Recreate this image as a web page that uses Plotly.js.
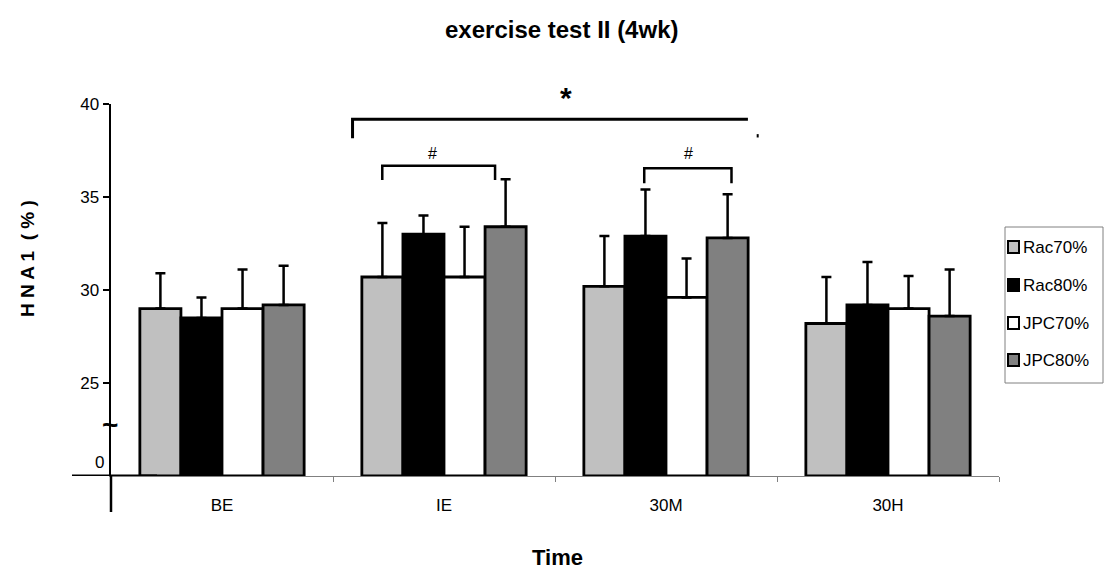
<!DOCTYPE html>
<html>
<head>
<meta charset="utf-8">
<script src="https://cdn.plot.ly/plotly-3.0.1.min.js"></script>
<style>
  html, body { margin: 0; padding: 0; background: #fff; }
  #chart { width: 1108px; height: 576px; }
</style>
</head>
<body>
<div id="chart"></div>
<script>
const categories = ['BE', 'IE', '30M', '30H'];
const seriesNames = ['Rac70%', 'Rac80%', 'JPC70%', 'JPC80%'];
const rac70 = [29.0, 30.7, 30.2, 28.2];
const rac80 = [28.5, 33.0, 32.9, 29.2];
const jpc70 = [29.0, 30.7, 29.6, 29.0];
const jpc80 = [29.2, 33.4, 32.8, 28.6];
const rac70Err = [1.9, 2.9, 2.7, 2.5];
const rac80Err = [1.1, 1.0, 2.5, 2.3];
const jpc70Err = [2.1, 2.7, 2.1, 1.75];
const jpc80Err = [2.1, 2.55, 2.35, 2.5];
const yBase = 20;
const yTickVals = [25, 30, 35, 40];
const yTickText = ['25', '30', '35', '40'];

const fillColors = ['#c0c0c0', '#000000', '#ffffff', '#808080'];
const values = [rac70, rac80, jpc70, jpc80];
const errors = [rac70Err, rac80Err, jpc70Err, jpc80Err];

const FONT = '"Liberation Sans", Arial, sans-serif';

const traces = seriesNames.map((name, i) => ({
  type: 'bar',
  name: name,
  x: categories,
  y: values[i].map(v => v - yBase),
  base: yBase,
  showlegend: false,
  marker: { color: fillColors[i], line: { color: '#000', width: 2.8 } },
  error_y: {
    type: 'data', symmetric: false, array: errors[i],
    arrayminus: errors[i].map(() => 0), color: '#000', thickness: 2.5, width: 5
  }
}));

// px -> paper helpers for the hand-built legend box (layout only)
const L = 111, R = 999, T = 104, B = 476;
const px = v => (v - L) / (R - L);
const py = v => (B - v) / (B - T);

const shapes = [
  { type: 'line', xref: 'paper', yref: 'paper', x0: 0, x1: 0, y0: 0, y1: py(512), line: { color: '#000', width: 2.5 } },
  { type: 'line', xref: 'paper', yref: 'y', x0: px(72), x1: px(157), y0: 20, y1: 20, line: { color: '#000', width: 3 } },
  { type: 'path', xref: 'x', yref: 'y', path: 'M 0.588 38.16 L 0.588 39.18 L 2.369 39.18', line: { color: '#000', width: 3 } },
  { type: 'line', xref: 'x', yref: 'y', x0: 2.413, x1: 2.413, y0: 38.2, y1: 38.38, line: { color: '#000', width: 2 } },
  { type: 'path', xref: 'x', yref: 'y', path: 'M 0.722 35.91 L 0.722 36.68 L 1.23 36.68 L 1.23 35.91', line: { color: '#000', width: 2.5 } },
  { type: 'path', xref: 'x', yref: 'y', path: 'M 1.902 35.74 L 1.902 36.54 L 2.295 36.54 L 2.295 35.74', line: { color: '#000', width: 2.5 } },
  // legend box
  { type: 'rect', xref: 'paper', yref: 'paper', x0: px(1005), x1: px(1103), y0: py(383), y1: py(227),
    line: { color: '#808080', width: 1 }, fillcolor: '#fff' }
];
const legendY = [247, 285, 323, 360];
const annotations = [
  { text: '<b>*</b>', xref: 'x', yref: 'paper', x: 1.55, y: py(97), yanchor: 'middle', showarrow: false, font: { family: FONT, size: 30 } },
  { text: '#', xref: 'x', yref: 'y', x: 0.95, y: 37.35, showarrow: false, font: { family: FONT, size: 16 } },
  { text: '#', xref: 'x', yref: 'y', x: 2.1, y: 37.35, showarrow: false, font: { family: FONT, size: 16 } },
  { text: '<b>~</b>', xref: 'paper', yref: 'y', x: px(110), xanchor: 'center', y: 22.75, showarrow: false, font: { family: FONT, size: 28 } },
  { text: '0', xref: 'paper', yref: 'y', x: px(106), xanchor: 'right', y: 20.75, showarrow: false, font: { family: FONT, size: 17 } },
  { text: '<b>H N A 1  ( % )</b>', xref: 'paper', yref: 'paper', x: px(27), xanchor: 'center', y: py(259), yanchor: 'middle',
    textangle: -90, showarrow: false, font: { family: FONT, size: 19 } },
  { text: '<b>Time</b>', xref: 'paper', yref: 'paper', x: px(557), xanchor: 'center', y: py(557), yanchor: 'middle', showarrow: false,
    font: { family: FONT, size: 22 } }
];
seriesNames.forEach((name, i) => {
  shapes.push({ type: 'rect', xref: 'paper', yref: 'paper', x0: px(1008), x1: px(1019),
    y0: py(legendY[i] + 6), y1: py(legendY[i] - 6), fillcolor: fillColors[i], line: { color: '#000', width: 2 } });
  annotations.push({ text: name, xref: 'paper', yref: 'paper', x: px(1021), xanchor: 'left',
    y: py(legendY[i]), yanchor: 'middle', showarrow: false, font: { family: FONT, size: 17 } });
});

const layout = {
  width: 1108, height: 576,
  margin: { l: L, r: 1108 - R, t: T, b: 576 - B, autoexpand: false },
  paper_bgcolor: '#fff', plot_bgcolor: '#fff',
  font: { family: FONT, color: '#000', size: 16 },
  showlegend: false,
  barmode: 'group', bargap: 0.26, bargroupgap: 0,
  title: { text: '<b>exercise test II (4wk)</b>', x: 0.507, xanchor: 'center', y: 0.948, yanchor: 'middle',
           font: { family: FONT, size: 24, color: '#000' } },
  xaxis: {
    type: 'category', showline: true, linecolor: '#808080', linewidth: 1,
    ticks: 'outside', tickson: 'boundaries', ticklen: 5, tickcolor: '#808080', tickwidth: 1,
    showgrid: false, zeroline: false, ticklabelstandoff: 14,
    tickfont: { family: FONT, size: 17 }
  },
  yaxis: {
    range: [20, 40], showline: true, linecolor: '#000', linewidth: 2.5,
    ticks: 'outside', ticklen: 6, tickwidth: 2.5, tickcolor: '#000',
    tickvals: yTickVals, ticktext: yTickText, showgrid: false, zeroline: false,
    tickfont: { family: FONT, size: 17 }
  },
  shapes: shapes,
  annotations: annotations
};

Plotly.newPlot('chart', traces, layout, { displayModeBar: false, staticPlot: true });
</script>
</body>
</html>
